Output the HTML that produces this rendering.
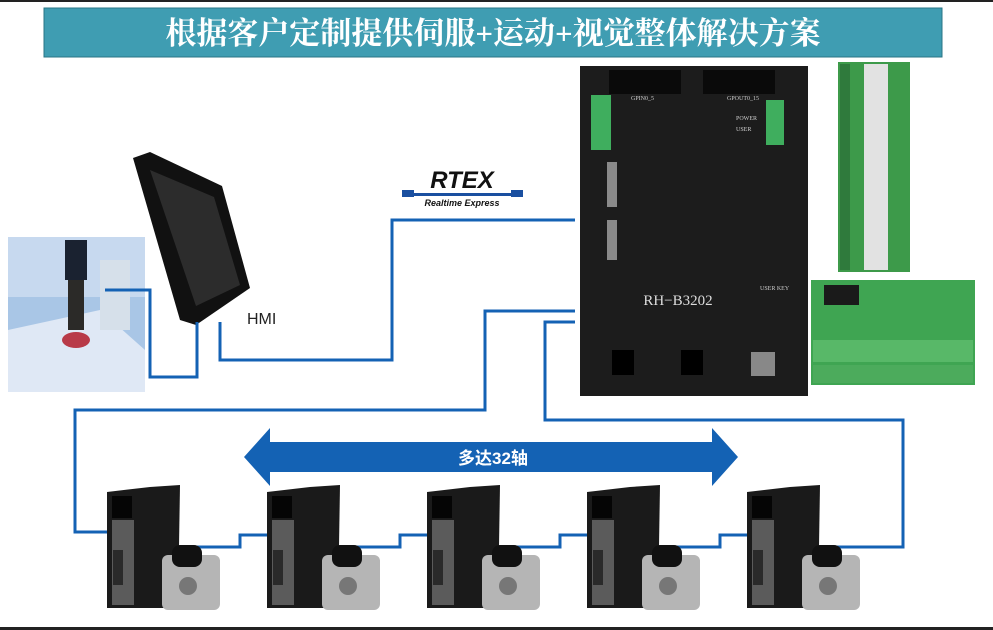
<!DOCTYPE html>
<html><head><meta charset="utf-8"><style>
html,body{margin:0;padding:0;background:#fff;width:993px;height:630px;overflow:hidden}
</style></head><body>
<svg width="993" height="630" viewBox="0 0 993 630" xmlns="http://www.w3.org/2000/svg" style="display:block">
<rect x="0" y="0" width="993" height="2" fill="#222"/>
<rect x="0" y="627" width="993" height="3" fill="#222"/>
<!-- title -->
<rect x="44" y="8" width="898" height="49" fill="#3f9db2" stroke="#2a7585" stroke-width="1"/>
<text x="493" y="44" text-anchor="middle" fill="#fff" font-size="31" font-weight="bold" font-family="'Liberation Serif','Noto Serif CJK SC',serif">根据客户定制提供伺服+运动+视觉整体解决方案</text>

<!-- camera photo -->
<rect x="8" y="237" width="137" height="155" fill="#a9c6e6"/>
<rect x="8" y="237" width="137" height="60" fill="#c7d9ef"/>
<polygon points="8,330 100,310 145,350 145,392 8,392" fill="#dfe8f5"/>
<rect x="65" y="240" width="22" height="40" fill="#1a2230"/>
<rect x="68" y="280" width="16" height="50" fill="#2b2a28"/>
<ellipse cx="76" cy="340" rx="14" ry="8" fill="#b83a48"/>
<rect x="100" y="260" width="30" height="70" fill="#d6e0ea"/>

<!-- HMI -->
<polygon points="133,158 150,152 222,186 250,288 196,325 180,320" fill="#111"/>
<polygon points="150,170 214,197 240,285 196,306" fill="#2c2c2c"/>
<text x="247" y="324" font-size="16" fill="#222" font-family="'Liberation Sans',sans-serif">HMI</text>

<!-- RTEX logo -->
<text x="462" y="188" text-anchor="middle" font-size="24" font-weight="bold" font-style="italic" fill="#111" font-family="'Liberation Sans',sans-serif">RTEX</text>
<rect x="402" y="193" width="121" height="3" fill="#1a4fa0"/>
<rect x="402" y="190" width="12" height="7" fill="#1a4fa0"/>
<rect x="511" y="190" width="12" height="7" fill="#1a4fa0"/>
<text x="462" y="206" text-anchor="middle" font-size="9" font-weight="bold" font-style="italic" fill="#111" font-family="'Liberation Sans',sans-serif">Realtime Express</text>

<!-- controller -->
<rect x="580" y="66" width="228" height="330" fill="#1c1c1c"/>
<rect x="609" y="70" width="72" height="24" fill="#0a0a0a"/>
<rect x="703" y="70" width="72" height="24" fill="#0a0a0a"/>
<rect x="591" y="95" width="20" height="55" fill="#3fae5e"/>
<rect x="766" y="100" width="18" height="45" fill="#3fae5e"/>
<rect x="607" y="162" width="10" height="45" fill="#8a8a8a"/>
<rect x="607" y="220" width="10" height="40" fill="#8a8a8a"/>
<text x="678" y="305" text-anchor="middle" font-size="15" fill="#ddd" font-family="'Liberation Serif',serif">RH−B3202</text>
<rect x="612" y="350" width="22" height="25" fill="#000"/>
<rect x="681" y="350" width="22" height="25" fill="#000"/>
<rect x="751" y="352" width="24" height="24" fill="#888"/>
<g font-size="6" fill="#ccc" font-family="'Liberation Serif',serif">
<text x="631" y="100">GPIN0_5</text><text x="727" y="100">GPOUT0_15</text>
<text x="736" y="120">POWER</text><text x="736" y="131">USER</text>
<text x="760" y="290">USER KEY</text></g>

<!-- relay board -->
<rect x="838" y="62" width="72" height="210" fill="#3d9a4a"/>
<rect x="864" y="64" width="24" height="206" fill="#e2e2e2"/>
<rect x="840" y="64" width="10" height="206" fill="#2f7a3c"/>
<!-- terminal board -->
<rect x="811" y="280" width="164" height="105" fill="#3fa552"/>
<rect x="824" y="285" width="35" height="20" fill="#1a1a1a"/>
<rect x="813" y="340" width="160" height="22" fill="#58b868"/>
<rect x="813" y="365" width="160" height="18" fill="#4cab5c"/>

<!-- blue lines -->
<g fill="none" stroke="#1462b4" stroke-width="3">
<polyline points="220,322 220,360 392,360 392,220 575,220"/>
<polyline points="105,290 150,290 150,377 197,377 197,322"/>
<polyline points="575,311 485,311 485,410 75,410 75,532 130,532"/>
<polyline points="575,322 545,322 545,420 903,420 903,547 775,547"/>
<polyline points="130,547 240,547 240,535 290,535"/>
<polyline points="290,547 400,547 400,535 450,535"/>
<polyline points="450,547 560,547 560,535 610,535"/>
<polyline points="610,547 720,547 720,535 770,535"/>
</g>

<!-- arrow -->
<polygon points="244,457 270,428 270,442 712,442 712,428 738,457 712,486 712,472 270,472 270,486" fill="#1462b4"/>
<text x="493" y="464" text-anchor="middle" font-size="17" font-weight="bold" fill="#fff" font-family="'Liberation Sans','Noto Sans CJK SC',sans-serif">多达32轴</text>

<!-- servos -->
<g id="s">
<polygon points="107,492 150,487 180,485 178,608 107,608" fill="#1a1a1a"/>
<rect x="112" y="496" width="20" height="22" fill="#050505"/>
<rect x="112" y="520" width="22" height="85" fill="#d8d8d8" opacity="0.35"/>
<rect x="113" y="550" width="10" height="35" fill="#2a2a2a"/>
<rect x="162" y="555" width="58" height="55" rx="6" fill="#b5b5b5"/>
<rect x="172" y="545" width="30" height="22" rx="8" fill="#111"/>
<circle cx="188" cy="586" r="9" fill="#777"/>
</g>
<use href="#s" x="160"/><use href="#s" x="320"/><use href="#s" x="480"/><use href="#s" x="640"/>
</svg>
</body></html>
